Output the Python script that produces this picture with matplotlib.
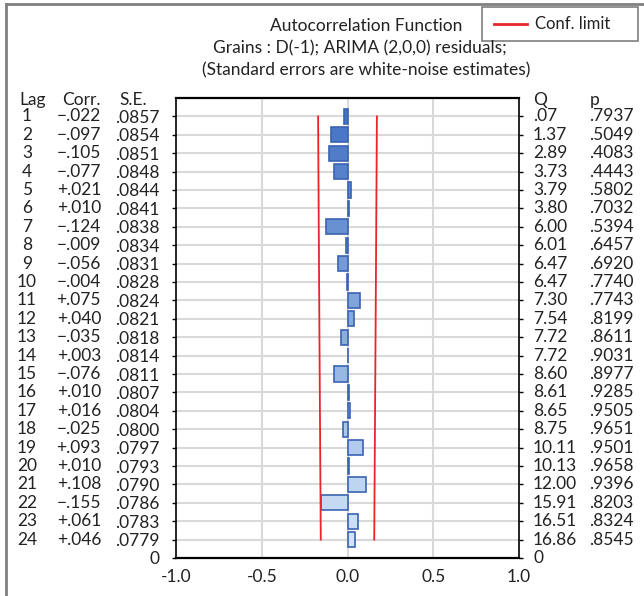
import numpy as np
import matplotlib
matplotlib.use('Agg')
import matplotlib.pyplot as plt
from matplotlib.transforms import blended_transform_factory
from matplotlib.lines import Line2D
from matplotlib.patches import Rectangle
from matplotlib.colors import to_rgb

plt.rcParams['font.family'] = ['Lato', 'DejaVu Sans']
plt.rcParams['font.size'] = 12.5

lags = list(range(1, 25))
corr = [-0.022, -0.097, -0.105, -0.077, 0.021, 0.010, -0.124, -0.009, -0.056, -0.004,
        0.075, 0.040, -0.035, 0.003, -0.076, 0.010, 0.016, -0.025, 0.093, 0.010,
        0.108, -0.155, 0.061, 0.046]
se = [0.0857, 0.0854, 0.0851, 0.0848, 0.0844, 0.0841, 0.0838, 0.0834, 0.0831, 0.0828,
      0.0824, 0.0821, 0.0818, 0.0814, 0.0811, 0.0807, 0.0804, 0.0800, 0.0797, 0.0793,
      0.0790, 0.0786, 0.0783, 0.0779]
q_stat = ['.07', '1.37', '2.89', '3.73', '3.79', '3.80', '6.00', '6.01', '6.47', '6.47',
          '7.30', '7.54', '7.72', '7.72', '8.60', '8.61', '8.65', '8.75', '10.11', '10.13',
          '12.00', '15.91', '16.51', '16.86']
p_val = ['.7937', '.5049', '.4083', '.4443', '.5802', '.7032', '.5394', '.6457', '.6920', '.7740',
         '.7743', '.8199', '.8611', '.9031', '.8977', '.9285', '.9505', '.9651', '.9501', '.9658',
         '.9396', '.8203', '.8324', '.8545']
x_ticks = [-1.0, -0.5, 0.0, 0.5, 1.0]
x_labels = ['-1.0', '-0.5', '0.0', '0.5', '1.0']

W, H = 644, 596
TXT = '#222222'
RED = '#e8262a'
fig = plt.figure(figsize=(W / 100, H / 100), dpi=100)
ax = fig.add_axes([176 / W, 1 - 558 / H, (519 - 176) / W, (558 - 98) / H])

# bar colours fade from dark to light blue down the lags
c0, c1 = np.array(to_rgb('#4472c4')), np.array(to_rgb('#d0e4f7'))
t = np.linspace(0, 1, len(lags))
colors = [tuple(c0 + (c1 - c0) * ti) for ti in t]

for lag in lags:
    ax.axhline(lag, color='#d9d9d9', lw=1.5, zorder=0)
for xv in [-0.5, 0.0, 0.5]:
    ax.axvline(xv, color='#d9d9d9', lw=1.5, zorder=0)

ax.barh(lags, corr, height=0.82, color=colors, edgecolor='#3a63b2', lw=1.2, zorder=2)

lim = 2 * np.array(se)
ax.plot(-lim, lags, color=RED, lw=1.3, zorder=3)
ax.plot(lim, lags, color=RED, lw=1.3, zorder=3)

ax.set_xlim(-1, 1)
ax.set_ylim(25, 0)
ax.set_xticks(x_ticks)
ax.set_xticklabels(x_labels)
ax.set_yticks(lags + [25])
ax.set_yticklabels(['.%s' % ('%.4f' % s)[2:] for s in se] + ['0'])
ax.tick_params(axis='x', length=0, pad=8, labelcolor=TXT)
ax.tick_params(axis='y', length=3, width=1, direction='out', right=True, pad=9,
               labelcolor=TXT)
for side in ['left', 'right']:
    ax.spines[side].set_linewidth(1.2)
for side in ['top', 'bottom']:
    ax.spines[side].set_linewidth(1.6)

tr = blended_transform_factory(fig.transFigure, ax.transData)
for lag, c, q, p in zip(lags, corr, q_stat, p_val):
    ax.text(27 / W, lag, str(lag), transform=tr, ha='center', va='center', color=TXT)
    sign = '+' if c >= 0 else '\u2212'
    ax.text(101 / W, lag, sign + ('%.3f' % abs(c))[1:], transform=tr, ha='right', va='center',
            color=TXT)
    ax.text(533 / W, lag, q, transform=tr, ha='left', va='center', color=TXT)
    ax.text(589 / W, lag, p, transform=tr, ha='left', va='center', color=TXT)
ax.text(533 / W, 25, '0', transform=tr, ha='left', va='center', color=TXT)

hy = 0.1
ax.text(19 / W, hy, 'Lag', transform=tr, ha='left', va='center', color=TXT)
ax.text(101 / W, hy, 'Corr.', transform=tr, ha='right', va='center', color=TXT)
ax.text(119 / W, hy, 'S.E.', transform=tr, ha='left', va='center', color=TXT)
ax.text(533 / W, hy, 'Q', transform=tr, ha='left', va='center', color=TXT)
ax.text(590 / W, hy, 'p', transform=tr, ha='left', va='center', color=TXT)

fig.text(366 / W, 1 - 26 / H, 'Autocorrelation Function', ha='center', va='center', color=TXT)
fig.text(360 / W, 1 - 48 / H, 'Grains : D(-1); ARIMA (2,0,0) residuals;', ha='center', va='center',
         color=TXT)
fig.text(366 / W, 1 - 70 / H, '(Standard errors are white-noise estimates)', ha='center',
         va='center', color=TXT)

# legend box drawn by hand, top right
fig.add_artist(Rectangle((482 / W, 1 - 41 / H), (638 - 482) / W, 34 / H, transform=fig.transFigure,
                         facecolor='white', edgecolor='#7f7f7f', lw=1.2))
fig.add_artist(Line2D([494 / W, 527 / W], [1 - 24 / H, 1 - 24 / H], transform=fig.transFigure,
                      color=RED, lw=2))
fig.text(535 / W, 1 - 24 / H, 'Conf. limit', ha='left', va='center', color=TXT, fontsize=12)

# grey frame on left and top edge
fig.add_artist(Line2D([6 / W, 6 / W], [0, 1 - 4 / H], transform=fig.transFigure,
                      color='#808080', lw=2))
fig.add_artist(Line2D([6 / W, 1], [1 - 4 / H, 1 - 4 / H], transform=fig.transFigure,
                      color='#808080', lw=2))

fig.savefig('out.png', dpi=100)
